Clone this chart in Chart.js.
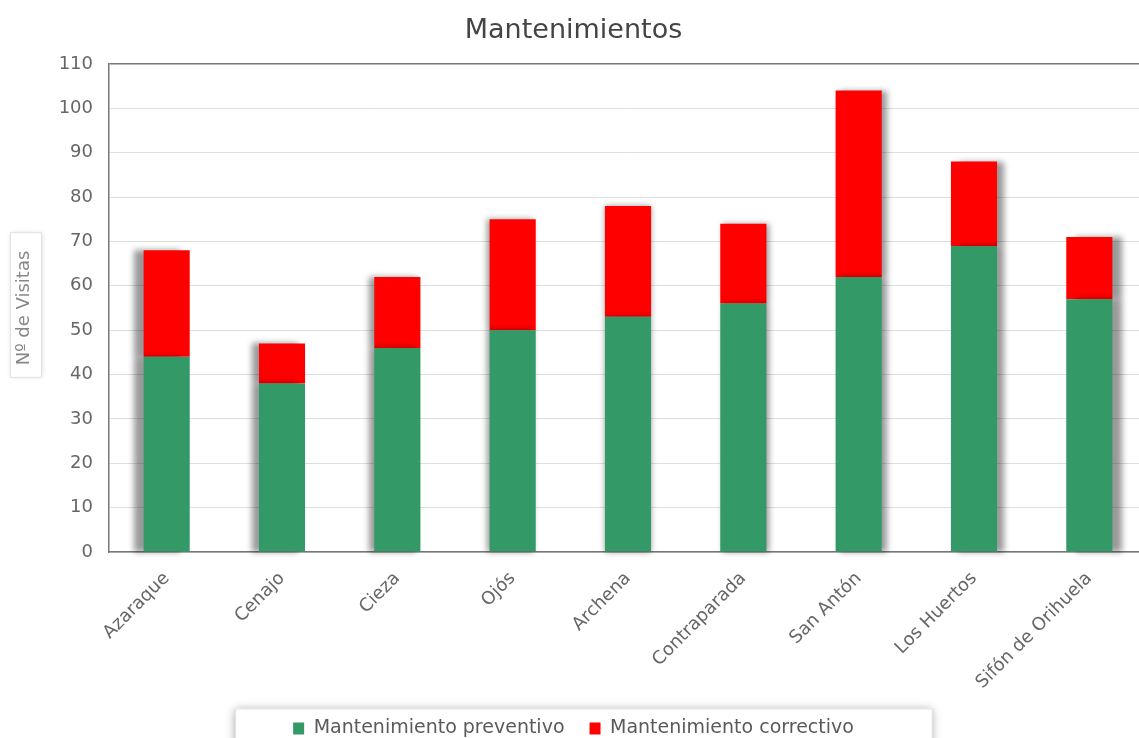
<!DOCTYPE html>
<html>
<head>
<meta charset="utf-8">
<title>Mantenimientos</title>
<script src="https://cdn.jsdelivr.net/npm/chart.js@4/dist/chart.umd.min.js"></script>
<style>
  body { margin: 0; background: #fff; }
  #wrap { width: 1139px; height: 738px; overflow: hidden; position: relative; }
  canvas { display: block; }
</style>
</head>
<body>
<div id="wrap">
  <canvas id="chart" width="1147" height="760"></canvas>
</div>
<script>
// Data
const plants = ["Azaraque", "Cenajo", "Cieza", "Ojós", "Archena", "Contraparada", "San Antón", "Los Huertos", "Sifón de Orihuela"];
const preventivo = [44, 38, 46, 50, 53, 56, 62, 69, 57];
const correctivo = [24, 9, 16, 25, 25, 18, 42, 19, 14];
const yTicks = [0, 10, 20, 30, 40, 50, 60, 70, 80, 90, 100, 110];

const FONT = "'DejaVu Sans', Verdana, sans-serif";
const PLOT_BOTTOM = 552;   // y of the zero line
const LEGEND_Y = 728;      // middle of the legend row

// Bars get a shadow pushed away from the middle of the plot
const barShadow = {
  id: 'barShadow',
  beforeDatasetDraw(chart, args){
    const ctx = chart.ctx;
    const area = chart.chartArea;
    const mid = (area.left + area.right) / 2;
    args.meta.data.forEach(bar => {
      ctx.save();
      ctx.shadowColor = 'rgba(0,0,0,0.4)';
      ctx.shadowBlur = 6;
      ctx.shadowOffsetX = (bar.x - mid) / (area.width / 2) * 11;
      bar.draw(ctx, area);
      ctx.restore();
    });
    return false;
  }
};

// Boxes behind the y title and the legend
const frames = {
  id: 'frames',
  beforeDraw(chart){
    const ctx = chart.ctx;
    const area = chart.chartArea;
    ctx.save();
    ctx.fillStyle = '#fff';
    ctx.strokeStyle = '#e2e2e2';
    ctx.lineWidth = 1;

    // y title box
    ctx.font = "18px " + FONT;
    const tw = ctx.measureText("Nº de Visitas").width;
    const cy = (area.top + area.bottom) / 2 - 6;
    ctx.shadowColor = 'rgba(0,0,0,0.2)';
    ctx.shadowBlur = 5;
    ctx.fillRect(10.5, cy - tw / 2 - 12, 31, tw + 30);
    ctx.shadowColor = 'transparent';
    ctx.strokeRect(10.5, cy - tw / 2 - 12, 31, tw + 30);

    // legend box
    const hb = chart.legend.legendHitBoxes;
    if (hb && hb.length){
      const left = hb[0].left - 58;
      const right = hb[hb.length - 1].left + hb[hb.length - 1].width + 78;
      const top = hb[0].top + hb[0].height / 2 - 20;
      ctx.shadowColor = 'rgba(0,0,0,0.35)';
      ctx.shadowBlur = 9;
      ctx.fillRect(left, top, right - left, 120);
      ctx.shadowColor = 'transparent';
      ctx.strokeRect(left + 0.5, top + 0.5, right - left, 120);
    }
    ctx.restore();
  }
};

const canvas = document.getElementById("chart");

function makeChart(){
  return new Chart(canvas.getContext("2d"), {
    type: 'bar',
    data: {
      labels: plants,
      datasets: [
        { label: 'Mantenimiento preventivo', data: preventivo, backgroundColor: '#339966', borderWidth: 0 },
        { label: 'Mantenimiento correctivo', data: correctivo, backgroundColor: '#ff0000', borderWidth: 0 }
      ]
    },
    options: {
      responsive: false,
      maintainAspectRatio: false,
      animation: false,
      layout: { padding: 0 },
      datasets: { bar: { categoryPercentage: 1, barPercentage: 0.4 } },
      scales: {
        x: {
          stacked: true,
          grid: { display: false, drawTicks: false },
          border: { display: true, color: '#777', width: 1.5 },
          ticks: { color: '#666', font: { family: FONT, size: 18 }, minRotation: 45, maxRotation: 45, padding: 16 },
          afterFit(scale){ scale.height = scale.chart.height - scale.chart.legend.height - PLOT_BOTTOM; }
        },
        y: {
          stacked: true,
          min: 0,
          max: 110,
          afterBuildTicks(scale){ scale.ticks = yTicks.map(v => ({ value: v })); },
          grid: {
            drawTicks: false,
            color: c => c.tick && c.tick.value === 110 ? '#777' : '#dedede',
            lineWidth: c => c.tick && c.tick.value === 110 ? 1.5 : 1
          },
          border: { display: true, color: '#777', width: 1.5 },
          ticks: { color: '#666', font: { family: FONT, size: 18 }, padding: 16 },
          title: { display: true, text: 'Nº de Visitas', color: '#888', font: { family: FONT, size: 18 }, padding: { top: 14, bottom: 0 } },
          afterFit(scale){ scale.width = 109; }
        }
      },
      plugins: {
        title: { display: true, text: 'Mantenimientos', color: '#444', font: { family: FONT, size: 27, weight: 'normal' }, padding: { top: 15, bottom: 16.6 } },
        legend: {
          position: 'bottom',
          labels: { color: '#5a5a5a', font: { family: FONT, size: 19 }, boxWidth: 11, boxHeight: 12, padding: 25 }
        },
        tooltip: { enabled: false }
      }
    },
    plugins: [barShadow, frames]
  });
}

// first pass finds where the legend row lands, then the canvas is sized so it sits at LEGEND_Y
let chart = makeChart();
const hb0 = chart.legend.legendHitBoxes[0];
const fromBottom = chart.height - (hb0.top + hb0.height / 2);
chart.destroy();
canvas.width = 1147;
canvas.height = Math.round(LEGEND_Y + fromBottom);
chart = makeChart();
</script>
</body>
</html>
